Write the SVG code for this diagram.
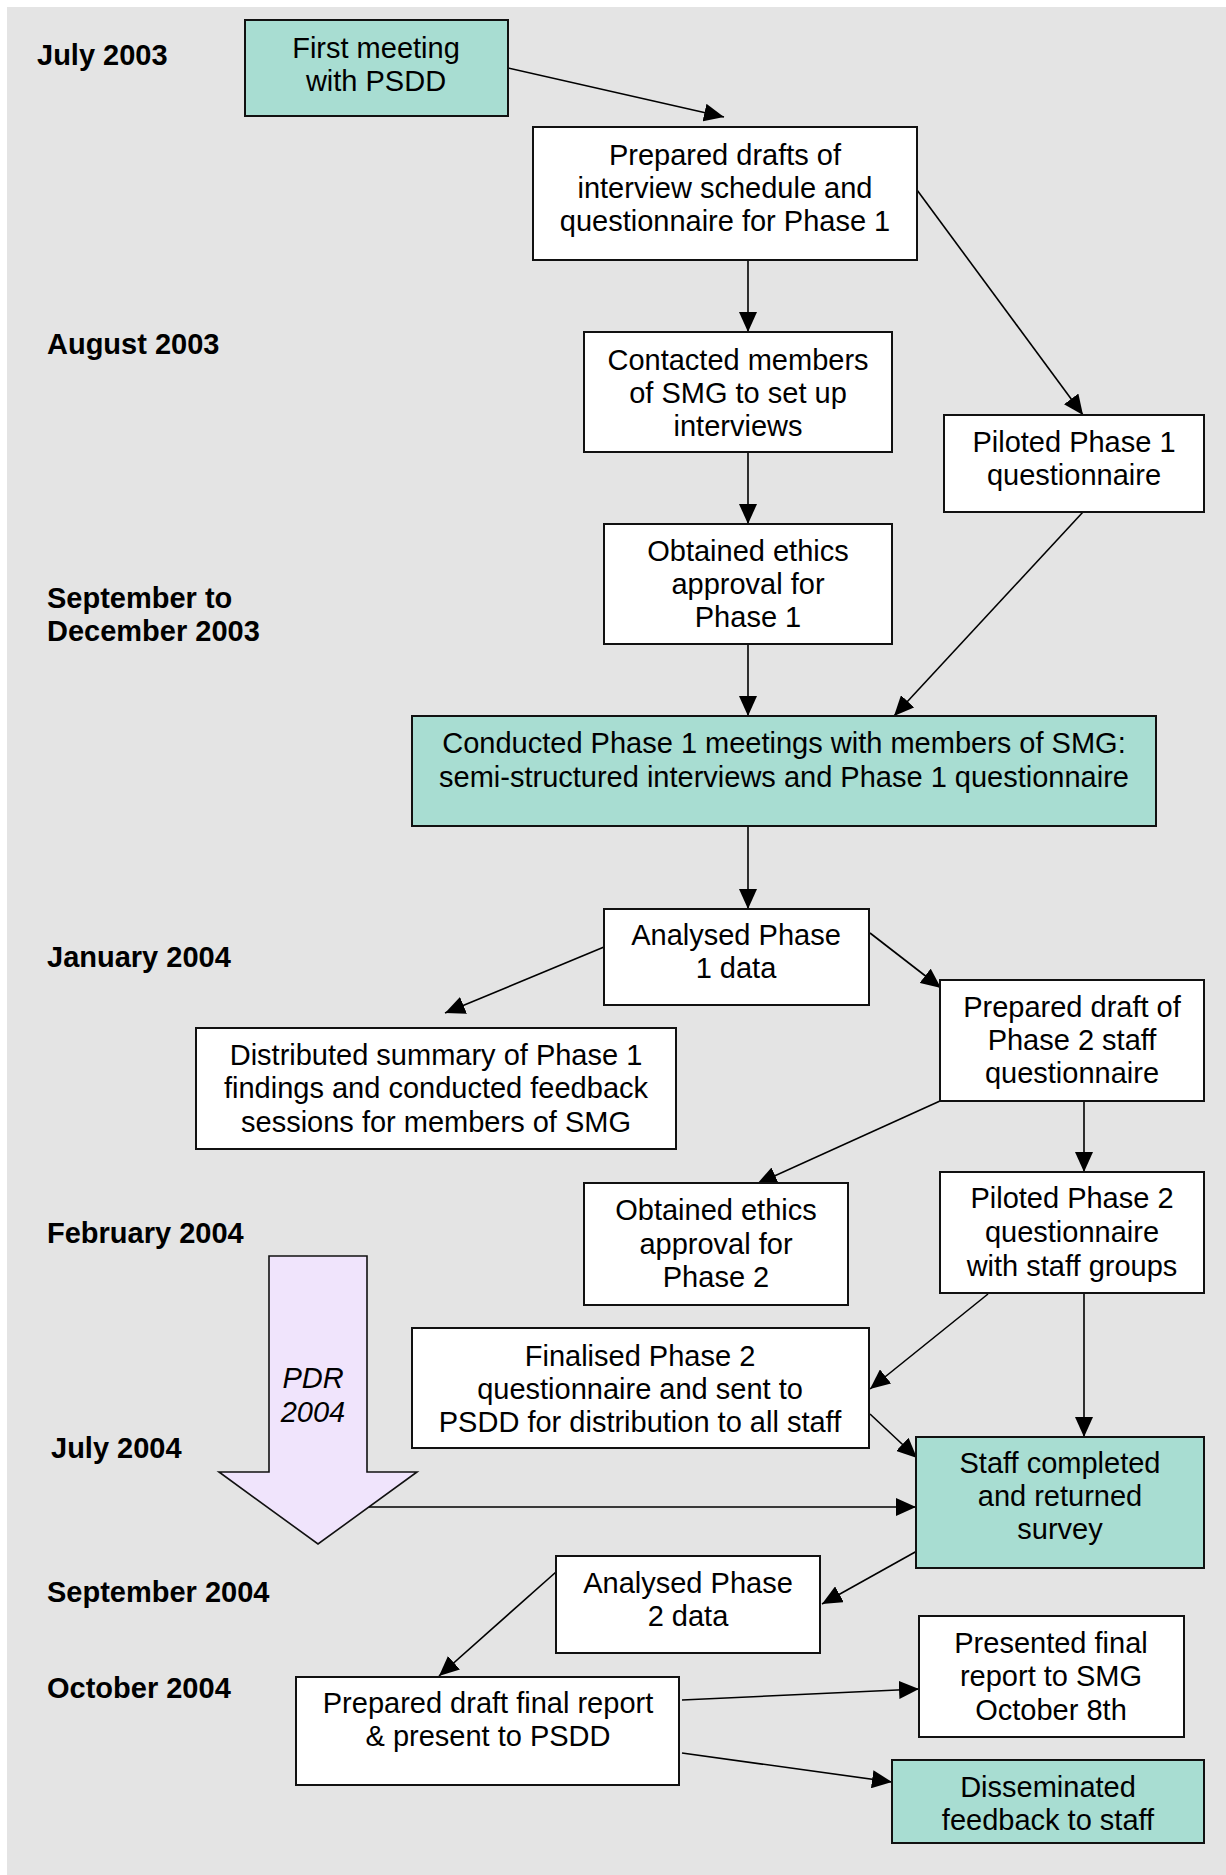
<svg xmlns="http://www.w3.org/2000/svg" width="1226" height="1875" viewBox="0 0 1226 1875">
<style>
.box{fill:#ffffff;stroke:#111111;stroke-width:2}
.teal{fill:#a8ddd2;stroke:#111111;stroke-width:2}
.t{font-family:"Liberation Sans",Arial,sans-serif;font-size:29px;fill:#000;text-anchor:middle}
.d{font-family:"Liberation Sans",Arial,sans-serif;font-size:29px;font-weight:bold;fill:#000}
.c{stroke:#000;stroke-width:1.6;fill:none;marker-end:url(#ah)}
.i{font-family:"Liberation Sans",Arial,sans-serif;font-size:29px;font-style:italic;fill:#000;text-anchor:middle}
</style>
<defs>
<marker id="ah" viewBox="0 0 20 18" refX="20" refY="9" markerWidth="20" markerHeight="18" markerUnits="userSpaceOnUse" orient="auto">
<path d="M0,0 L20,9 L0,18 z" fill="#000"/>
</marker>
</defs>
<rect x="7" y="7" width="1219" height="1868" fill="#e4e4e4"/>

<g id="dates">
<text class="d" x="37" y="65">July 2003</text>
<text class="d" x="47" y="354">August 2003</text>
<text class="d" x="47" y="608">September to</text>
<text class="d" x="47" y="641">December 2003</text>
<text class="d" x="47" y="967">January 2004</text>
<text class="d" x="47" y="1243">February 2004</text>
<text class="d" x="51" y="1458">July 2004</text>
<text class="d" x="47" y="1602">September 2004</text>
<text class="d" x="47" y="1698">October 2004</text>
</g>

<g id="pdr">
<path d="M269,1256 L367,1256 L367,1472 L417,1472 L318,1544 L219,1472 L269,1472 Z" fill="#f0e4fc" stroke="#111" stroke-width="1.6"/>
<text class="i" x="313" y="1388">PDR</text>
<text class="i" x="313" y="1422">2004</text>
</g>

<g id="connectors">
<line class="c" x1="508" y1="68" x2="724" y2="117"/>
<line class="c" x1="748" y1="260" x2="748" y2="332"/>
<line class="c" x1="917" y1="190" x2="1083" y2="415"/>
<line class="c" x1="748" y1="452" x2="748" y2="524"/>
<line class="c" x1="1083" y1="512" x2="894" y2="716"/>
<line class="c" x1="748" y1="644" x2="748" y2="716"/>
<line class="c" x1="748" y1="826" x2="748" y2="909"/>
<line class="c" x1="604" y1="947" x2="445" y2="1013"/>
<line class="c" x1="870" y1="933" x2="941" y2="988"/>
<line class="c" x1="940" y1="1101" x2="757" y2="1184"/>
<line class="c" x1="1084" y1="1101" x2="1084" y2="1172"/>
<line class="c" x1="988" y1="1294" x2="870" y2="1389"/>
<line class="c" x1="1084" y1="1293" x2="1084" y2="1437"/>
<line class="c" x1="870" y1="1414" x2="917" y2="1458"/>
<line class="c" x1="369" y1="1507" x2="916" y2="1507"/>
<line class="c" x1="917" y1="1551" x2="822" y2="1604"/>
<line class="c" x1="556" y1="1572" x2="439" y2="1676"/>
<line class="c" x1="682" y1="1700" x2="919" y2="1689"/>
<line class="c" x1="682" y1="1753" x2="892" y2="1782"/>
</g>

<g id="n1"><rect class="teal" x="245" y="20" width="263" height="96"/>
<text class="t" x="376" y="58">First meeting</text><text class="t" x="376" y="91">with PSDD</text></g>

<g id="n2"><rect class="box" x="533" y="127" width="384" height="133"/>
<text class="t" x="725" y="165">Prepared drafts of</text><text class="t" x="725" y="198">interview schedule and</text><text class="t" x="725" y="231">questionnaire for Phase 1</text></g>

<g id="n3"><rect class="box" x="584" y="332" width="308" height="120"/>
<text class="t" x="738" y="370">Contacted members</text><text class="t" x="738" y="403">of SMG to set up</text><text class="t" x="738" y="436">interviews</text></g>

<g id="n4"><rect class="box" x="944" y="415" width="260" height="97"/>
<text class="t" x="1074" y="452">Piloted Phase 1</text><text class="t" x="1074" y="485">questionnaire</text></g>

<g id="n5"><rect class="box" x="604" y="524" width="288" height="120"/>
<text class="t" x="748" y="561">Obtained ethics</text><text class="t" x="748" y="594">approval for</text><text class="t" x="748" y="627">Phase 1</text></g>

<g id="n6"><rect class="teal" x="412" y="716" width="744" height="110"/>
<text class="t" x="784" y="753">Conducted Phase 1 meetings with members of SMG:</text><text class="t" x="784" y="787">semi-structured interviews and Phase 1 questionnaire</text></g>

<g id="n7"><rect class="box" x="604" y="909" width="265" height="96"/>
<text class="t" x="736" y="945">Analysed Phase</text><text class="t" x="736" y="978">1 data</text></g>

<g id="n8"><rect class="box" x="940" y="980" width="264" height="121"/>
<text class="t" x="1072" y="1017">Prepared draft of</text><text class="t" x="1072" y="1050">Phase 2 staff</text><text class="t" x="1072" y="1083">questionnaire</text></g>

<g id="n9"><rect class="box" x="196" y="1028" width="480" height="121"/>
<text class="t" x="436" y="1065">Distributed summary of Phase 1</text><text class="t" x="436" y="1098">findings and conducted feedback</text><text class="t" x="436" y="1132">sessions for members of SMG</text></g>

<g id="n10"><rect class="box" x="584" y="1183" width="264" height="122"/>
<text class="t" x="716" y="1220">Obtained ethics</text><text class="t" x="716" y="1254">approval for</text><text class="t" x="716" y="1287">Phase 2</text></g>

<g id="n11"><rect class="box" x="940" y="1172" width="264" height="121"/>
<text class="t" x="1072" y="1208">Piloted Phase 2</text><text class="t" x="1072" y="1242">questionnaire</text><text class="t" x="1072" y="1276">with staff groups</text></g>

<g id="n12"><rect class="box" x="412" y="1328" width="457" height="120"/>
<text class="t" x="640" y="1366">Finalised Phase 2</text><text class="t" x="640" y="1399">questionnaire and sent to</text><text class="t" x="640" y="1432">PSDD for distribution to all staff</text></g>

<g id="n13"><rect class="teal" x="916" y="1437" width="288" height="131"/>
<text class="t" x="1060" y="1473">Staff completed</text><text class="t" x="1060" y="1506">and returned</text><text class="t" x="1060" y="1539">survey</text></g>

<g id="n14"><rect class="box" x="556" y="1556" width="264" height="97"/>
<text class="t" x="688" y="1593">Analysed Phase</text><text class="t" x="688" y="1626">2 data</text></g>

<g id="n15"><rect class="box" x="919" y="1616" width="265" height="121"/>
<text class="t" x="1051" y="1653">Presented final</text><text class="t" x="1051" y="1686">report to SMG</text><text class="t" x="1051" y="1720">October 8th</text></g>

<g id="n16"><rect class="box" x="296" y="1677" width="383" height="108"/>
<text class="t" x="488" y="1713">Prepared draft final report</text><text class="t" x="488" y="1746">&amp; present to PSDD</text></g>

<g id="n17"><rect class="teal" x="892" y="1760" width="312" height="83"/>
<text class="t" x="1048" y="1797">Disseminated</text><text class="t" x="1048" y="1830">feedback to staff</text></g>
</svg>
